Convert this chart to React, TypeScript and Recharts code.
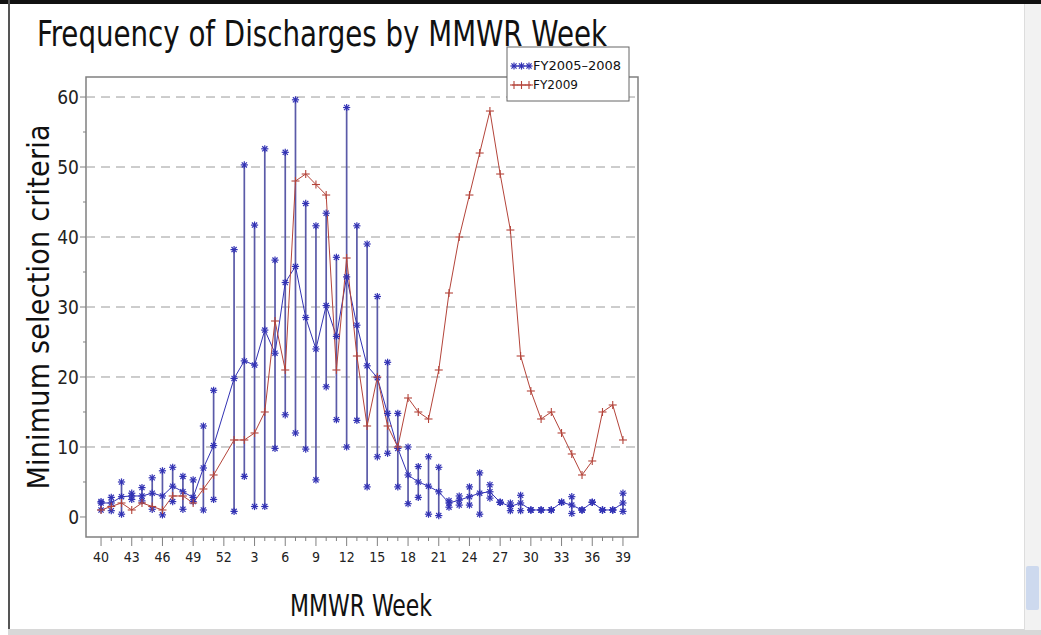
import React from 'react';
import { ComposedChart, Line, XAxis, YAxis, ReferenceLine, ReferenceArea, ErrorBar } from 'recharts';

// MMWR weeks, Oct -> Sep (week 52 has no data in either series)
const WEEKS = [
  '40', '41', '42', '43', '44', '45', '46', '47', '48', '49', '50', '51', '52',
  '1', '2', '3', '4', '5', '6', '7', '8', '9', '10', '11', '12', '13',
  '14', '15', '16', '17', '18', '19', '20', '21', '22', '23', '24', '25', '26',
  '27', '28', '29', '30', '31', '32', '33', '34', '35', '36', '37', '38', '39',
];

// FY2005-2008: mean with high / low range
const FY0508_MEAN = [
  2.0, 2.0, 2.9, 3.0, 3.0, 3.4, 3.0, 4.4, 3.6, 2.8, 7.0, 10.2, null,
  19.8, 22.3, 21.7, 26.7, 23.4, 33.5, 35.8, 28.5, 24.0, 30.2, 25.8, 34.3, 27.4,
  21.6, 19.9, 14.8, 9.8, 6.0, 5.0, 4.4, 3.6, 2.0, 2.4, 2.9, 3.4, 3.6,
  2.1, 1.5, 2.0, 1.0, 1.0, 1.0, 2.1, 1.7, 1.0, 2.1, 1.0, 1.0, 2.0,
];
const FY0508_HIGH = [
  2.2, 2.8, 5.0, 3.4, 4.2, 5.6, 6.6, 7.1, 5.8, 5.3, 13.0, 18.1, null,
  38.2, 50.3, 41.7, 52.6, 36.7, 52.1, 59.6, 44.8, 41.6, 43.4, 37.1, 58.5, 41.6,
  39.0, 31.5, 22.1, 14.8, 10.0, 7.2, 8.6, 7.1, 2.3, 3.0, 4.3, 6.3, 4.6,
  2.1, 2.0, 3.1, 1.0, 1.0, 1.0, 2.1, 2.9, 1.0, 2.1, 1.0, 1.0, 3.4,
];
const FY0508_LOW = [
  1.0, 0.9, 0.4, 2.5, 2.3, 1.1, 0.3, 2.2, 1.1, 2.2, 1.0, 2.5, null,
  0.8, 5.8, 1.5, 1.5, 9.8, 14.6, 12.0, 9.7, 5.3, 18.6, 13.9, 10.0, 13.8,
  4.3, 8.6, 9.1, 4.3, 1.9, 2.8, 0.4, 0.2, 1.4, 1.7, 1.7, 0.4, 2.7,
  2.1, 0.9, 0.9, 1.0, 1.0, 1.0, 2.1, 0.5, 1.0, 2.1, 1.0, 1.0, 0.8,
];
const FY2009 = [
  1.0, 1.5, 2.0, 1.0, 2.0, 1.5, 1.0, 3.0, 3.0, 2.0, 4.0, 6.0, null,
  11, 11, 12, 15, 28, 21, 48, 49, 47.5, 46, 21, 37, 23,
  13, 20, 13, 10, 17, 15, 14, 21, 32, 40, 46, 52, 58,
  49, 41, 23, 18, 14, 15, 12, 9, 6, 8, 15, 16, 11,
];

const X_DOMAIN = [-1.47, 52.47];
const Y_DOMAIN = [-2.86, 62.86];
const Y_TICKS = [0, 5, 10, 15, 20, 25, 30, 35, 40, 45, 50, 55, 60];
const GRID_VALUES = [10, 20, 30, 40, 50, 60];

const FONT = '"Liberation Sans Narrow", "Arial Narrow", "DejaVu Sans Condensed", sans-serif';
const BLUE = '#3232b4';
const BAR_BLUE = '#5a5aa8';
const RED = '#b4443a';
const AXIS = '#808080';

const rows = WEEKS.map((week, i) => ({
  idx: i,
  week,
  mean: FY0508_MEAN[i],
  high: FY0508_HIGH[i],
  low: FY0508_LOW[i],
  fy09: FY2009[i],
  range:
    FY0508_MEAN[i] == null
      ? null
      : [(FY0508_MEAN[i] as number) - (FY0508_LOW[i] as number), (FY0508_HIGH[i] as number) - (FY0508_MEAN[i] as number)],
})).filter((r) => r.mean != null);

const ALL_IDX = WEEKS.map((_, i) => i);

function Star({ cx, cy, color }: { cx: number; cy: number; color: string }) {
  const r = 3.6;
  const d = r * 0.72;
  return (
    <g stroke={color} strokeWidth={1.2}>
      <line x1={cx - r} y1={cy} x2={cx + r} y2={cy} />
      <line x1={cx} y1={cy - r} x2={cx} y2={cy + r} />
      <line x1={cx - d} y1={cy - d} x2={cx + d} y2={cy + d} />
      <line x1={cx - d} y1={cy + d} x2={cx + d} y2={cy - d} />
    </g>
  );
}

function Plus({ cx, cy, color }: { cx: number; cy: number; color: string }) {
  const r = 4;
  return (
    <g stroke={color} strokeWidth={1.1}>
      <line x1={cx - r} y1={cy} x2={cx + r} y2={cy} />
      <line x1={cx} y1={cy - r} x2={cx} y2={cy + r} />
    </g>
  );
}

const starDot = (prefix: string) => (p: any) =>
  p.cx == null || p.cy == null ? <g key={prefix + p.index} /> : <Star key={prefix + p.index} cx={p.cx} cy={p.cy} color={BLUE} />;

const plusDot = (p: any) =>
  p.cx == null || p.cy == null ? <g key={'p' + p.index} /> : <Plus key={'p' + p.index} cx={p.cx} cy={p.cy} color={RED} />;

function XTick(props: any) {
  const { x, y, payload } = props;
  const major = payload.value % 3 === 0;
  return (
    <g>
      <line x1={x} x2={x} y1={y} y2={y + (major ? 9 : 4)} stroke={AXIS} />
      {major && (
        <text x={x} y={y + 25} textAnchor="middle" fontFamily={FONT} fontSize={14} fill="#222">
          {WEEKS[payload.value]}
        </text>
      )}
    </g>
  );
}

function YTick(props: any) {
  const { x, y, payload } = props;
  const major = payload.value % 10 === 0;
  return (
    <g>
      <line x1={x - (major ? 6 : 3)} x2={x} y1={y} y2={y} stroke={AXIS} />
      {major && (
        <text x={x - 7} y={y} dy="0.36em" textAnchor="end" fontFamily={FONT} fontSize={19} fill="#222">
          {payload.value}
        </text>
      )}
    </g>
  );
}

export default function App() {
  return (
    <div style={{ position: 'fixed', left: 0, top: 0, width: 1041, height: 635, background: '#fff', overflow: 'hidden' }}>
      {/* window chrome */}
      <div style={{ position: 'absolute', left: 0, top: 0, width: 1041, height: 4, background: '#111' }} />
      <div style={{ position: 'absolute', left: 8, top: 0, width: 2, height: 635, background: '#555' }} />
      <div style={{ position: 'absolute', left: 8, top: 629, width: 1033, height: 6, background: '#d8d8d8' }} />
      <div style={{ position: 'absolute', left: 1024, top: 4, width: 17, height: 626, background: '#f2f2f2', borderLeft: '1px solid #ddd' }} />
      <div style={{ position: 'absolute', left: 1026, top: 566, width: 13, height: 44, background: '#cdd9ee', borderRadius: 2 }} />

      <div style={{ position: 'absolute', left: 0, top: 0 }}>
        <ComposedChart
          width={1041}
          height={635}
          data={rows}
          margin={{ top: 77, right: 403, bottom: 68, left: 46 }}
        >
          <XAxis
            type="number"
            dataKey="idx"
            domain={X_DOMAIN}
            allowDataOverflow
            ticks={ALL_IDX}
            interval={0}
            tick={<XTick />}
            tickLine={false}
            axisLine={false}
            tickSize={0}
            tickMargin={0}
            height={30}
          />
          <YAxis
            type="number"
            domain={Y_DOMAIN}
            allowDataOverflow
            ticks={Y_TICKS}
            interval={0}
            tick={<YTick />}
            tickLine={false}
            axisLine={false}
            tickSize={0}
            tickMargin={0}
            width={40}
          />
          {GRID_VALUES.map((v) => (
            <ReferenceLine key={v} y={v} stroke="#9a9a9a" strokeDasharray="9 6" strokeWidth={1} />
          ))}
          <ReferenceArea x1={X_DOMAIN[0]} x2={X_DOMAIN[1]} y1={Y_DOMAIN[0]} y2={Y_DOMAIN[1]} fill="none" stroke={AXIS} strokeWidth={1.5} ifOverflow="visible" />
          <Line
            dataKey="mean"
            stroke={BLUE}
            strokeWidth={1}
            dot={starDot('m')}
            activeDot={false}
            isAnimationActive={false}
          >
            <ErrorBar dataKey="range" direction="y" width={0} stroke={BAR_BLUE} strokeWidth={1.7} isAnimationActive={false} />
          </Line>
          <Line dataKey="high" stroke="none" strokeWidth={0} dot={starDot('h')} activeDot={false} isAnimationActive={false} />
          <Line dataKey="low" stroke="none" strokeWidth={0} dot={starDot('l')} activeDot={false} isAnimationActive={false} />
          <Line dataKey="fy09" stroke={RED} strokeWidth={1} dot={plusDot} activeDot={false} isAnimationActive={false} />
        </ComposedChart>
      </div>

      <svg width={1041} height={635} style={{ position: 'absolute', left: 0, top: 0, pointerEvents: 'none' }}>
        <text x={37} y={46} fontFamily={FONT} fontSize={36} fill="#111" textLength={570} lengthAdjust="spacingAndGlyphs">
          Frequency of Discharges by MMWR Week
        </text>
        <text
          transform="translate(49,307) rotate(-90)"
          textAnchor="middle"
          fontFamily={FONT}
          fontSize={30}
          fill="#111"
          textLength={365}
          lengthAdjust="spacing"
        >
          Minimum selection criteria
        </text>
        <text x={290} y={616} fontFamily={FONT} fontSize={30} fill="#111" textLength={142} lengthAdjust="spacingAndGlyphs">
          MMWR Week
        </text>

        {/* legend */}
        <rect x={507} y={47} width={122} height={54} fill="#fff" stroke="#666" strokeWidth={1} />
        <line x1={512} x2={531} y1={66} y2={66} stroke={BLUE} />
        {[514, 521.5, 529].map((cx) => (
          <Star key={'ls' + cx} cx={cx} cy={66} color={BLUE} />
        ))}
        <text x={533} y={70} fontFamily={FONT} fontSize={12} fill="#111" textLength={88} lengthAdjust="spacingAndGlyphs">
          FY2005–2008
        </text>
        <line x1={512} x2={531} y1={85} y2={85} stroke={RED} />
        {[514, 521.5, 529].map((cx) => (
          <Plus key={'lp' + cx} cx={cx} cy={85} color={RED} />
        ))}
        <text x={533} y={89} fontFamily={FONT} fontSize={12} fill="#111" textLength={45} lengthAdjust="spacingAndGlyphs">
          FY2009
        </text>
      </svg>
    </div>
  );
}
